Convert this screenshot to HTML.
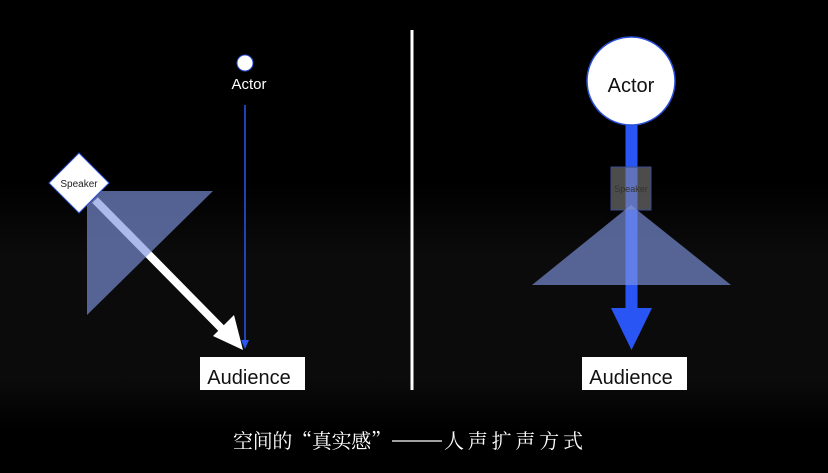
<!DOCTYPE html>
<html><head><meta charset="utf-8"><style>
html,body{margin:0;padding:0;background:#000;width:828px;height:473px;overflow:hidden}
</style></head><body>
<svg width="828" height="473" viewBox="0 0 828 473" xmlns="http://www.w3.org/2000/svg">
<defs>
<linearGradient id="band" x1="0" y1="0" x2="0" y2="1">
<stop offset="0" stop-color="#000"/>
<stop offset="0.3" stop-color="#0b0b0b"/>
<stop offset="0.8" stop-color="#0b0b0b"/>
<stop offset="1" stop-color="#000"/>
</linearGradient>
</defs>
<rect width="828" height="473" fill="#000"/>
<rect x="0" y="180" width="828" height="250" fill="url(#band)"/>
<!-- divider -->
<rect x="410.5" y="30" width="3" height="360" fill="#fff"/>
<!-- LEFT -->
<circle cx="245" cy="63" r="8" fill="#fff" stroke="#2a4fd6" stroke-width="1"/>
<text x="249" y="89" font-family="Liberation Sans, sans-serif" font-size="15" fill="#fff" text-anchor="middle">Actor</text>
<line x1="245" y1="105" x2="245" y2="342" stroke="#2a55f0" stroke-width="1.5"/>
<polygon points="241,340 249,340 245,349" fill="#2a55f0"/>
<line x1="95" y1="200" x2="223" y2="330" stroke="#fff" stroke-width="8"/>
<polygon points="213,336 234,315 243,350" fill="#fff"/>
<polygon points="87,191 213,191 87,315" fill="#7f95e0" fill-opacity="0.65"/>
<polygon points="79,153 109,183 79,213 49,183" fill="#fff" stroke="#2a4fd6" stroke-width="1"/>
<text x="79" y="187" font-family="Liberation Sans, sans-serif" font-size="10" fill="#222" text-anchor="middle">Speaker</text>
<rect x="200" y="357" width="105" height="33" fill="#fff"/>
<text x="249" y="384" font-family="Liberation Sans, sans-serif" font-size="20" fill="#111" text-anchor="middle">Audience</text>
<!-- RIGHT -->
<rect x="625.5" y="124" width="12" height="186" fill="#2a55f5"/>
<polygon points="611,308 652,308 631.5,350" fill="#2a55f5"/>
<circle cx="631" cy="81" r="44" fill="#fff" stroke="#2a4fd6" stroke-width="1.5"/>
<text x="631" y="92" font-family="Liberation Sans, sans-serif" font-size="20" fill="#111" text-anchor="middle">Actor</text>
<rect x="611" y="167" width="40" height="43" fill="#8a8a8a" fill-opacity="0.55" stroke="#3a4a90" stroke-width="1"/>
<text x="631" y="192" font-family="Liberation Sans, sans-serif" font-size="9" fill="#333" text-anchor="middle">Speaker</text>
<polygon points="631,205 731,285 532,285" fill="#7f95e0" fill-opacity="0.65"/>
<rect x="582" y="357" width="105" height="33" fill="#fff"/>
<text x="631" y="384" font-family="Liberation Sans, sans-serif" font-size="20" fill="#111" text-anchor="middle">Audience</text>
<!-- caption -->
<text x="233" y="448" textLength="158" lengthAdjust="spacing" font-family="'Noto Serif CJK SC', serif" font-size="20" fill="#fff">空间的“真实感”</text>
<line x1="392" y1="441" x2="442" y2="441" stroke="#fff" stroke-width="1.3"/>
<text x="444" y="448" textLength="139" lengthAdjust="spacing" font-family="'Noto Serif CJK SC', serif" font-size="20" fill="#fff">人声扩声方式</text>
</svg>
</body></html>
